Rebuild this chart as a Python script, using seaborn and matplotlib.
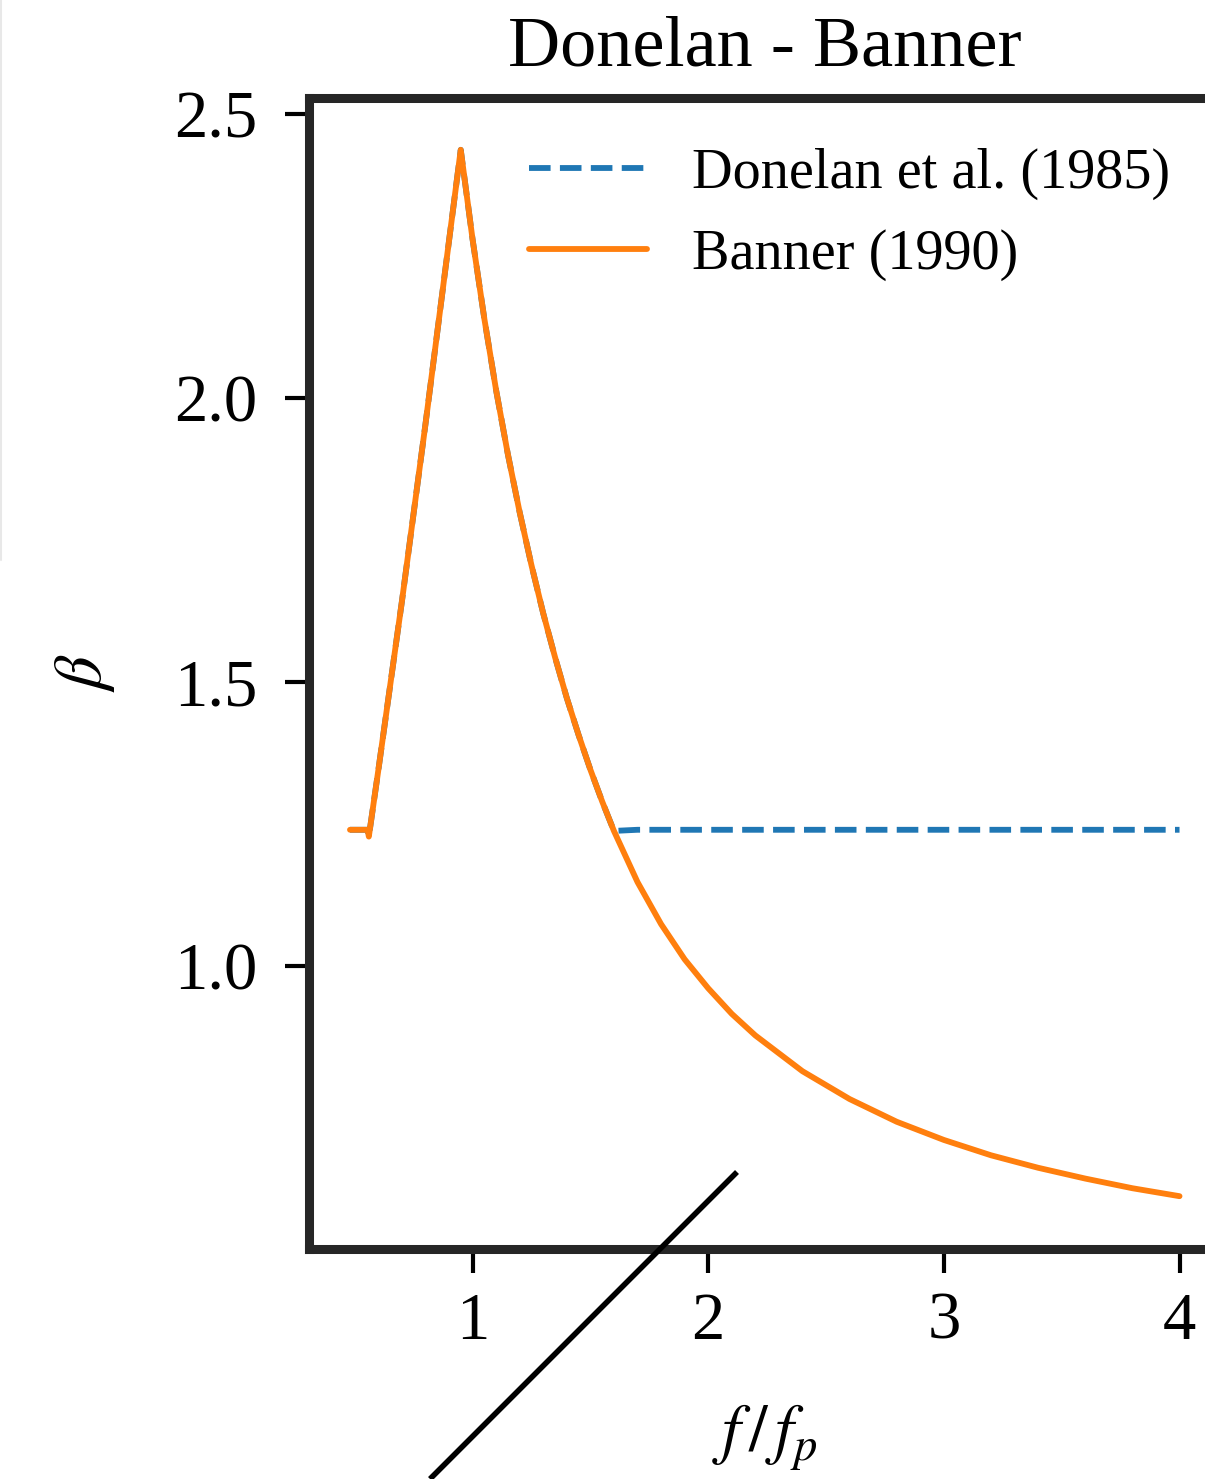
import matplotlib
matplotlib.use("Agg")
import matplotlib.pyplot as plt
from matplotlib.lines import Line2D
import seaborn as sns
import pandas as pd

# ---- data ----
f_ratio = [0.48, 0.52, 0.555, 0.56, 0.60, 0.70, 0.80, 0.90, 0.95,
           1.00, 1.05, 1.10, 1.15, 1.20, 1.25, 1.30, 1.35, 1.40, 1.45, 1.50, 1.55, 1.60,
           1.70, 1.80, 1.90, 2.00, 2.10, 2.20, 2.40, 2.60, 2.80, 3.00,
           3.20, 3.40, 3.60, 3.80, 4.00]
beta_donelan = [1.24, 1.24, 1.24, 1.228, 1.344, 1.641, 1.953, 2.276, 2.437,
                2.28, 2.14, 2.014, 1.901, 1.799, 1.706, 1.621, 1.544, 1.472, 1.407, 1.346, 1.29, 1.238,
                1.24, 1.24, 1.24, 1.24, 1.24, 1.24, 1.24, 1.24, 1.24, 1.24,
                1.24, 1.24, 1.24, 1.24, 1.24]
beta_banner = [1.24, 1.24, 1.24, 1.228, 1.344, 1.641, 1.953, 2.276, 2.437,
               2.28, 2.14, 2.014, 1.901, 1.799, 1.706, 1.621, 1.544, 1.472, 1.407, 1.346, 1.29, 1.238,
               1.148, 1.074, 1.012, 0.961, 0.916, 0.878, 0.815, 0.766, 0.726, 0.694,
               0.667, 0.645, 0.626, 0.609, 0.595]
series_names = ["Donelan et al. (1985)", "Banner (1990)"]
title_text = "Donelan - Banner"
x_ticks = [1, 2, 3, 4]
y_ticks = [1.0, 1.5, 2.0, 2.5]

df = pd.concat([
    pd.DataFrame({"f": f_ratio, "beta": beta_donelan, "model": series_names[0]}),
    pd.DataFrame({"f": f_ratio, "beta": beta_banner, "model": series_names[1]}),
])

sns.set_theme(style="ticks")
plt.rcParams["font.family"] = ["Liberation Serif", "DejaVu Serif"]
plt.rcParams["mathtext.fontset"] = "stix"

W, H = 1205, 1479
fig = plt.figure(figsize=(W / 100, H / 100), dpi=100)
ax = fig.add_axes([308.5 / W, 1 - 1248.5 / H, 912.5 / W, 1151 / H])

sns.lineplot(data=df, x="f", y="beta", hue="model", style="model",
             palette=["#1f77b4", "#ff7f0e"],
             dashes={series_names[0]: (3.7, 1.6), series_names[1]: ""},
             linewidth=4.2, ax=ax, estimator=None, sort=False)

for s in ax.spines.values():
    s.set_linewidth(6.5)
    s.set_color("#262626")

ax.set_xticks(x_ticks)
ax.set_yticks(y_ticks)
ax.set_yticklabels([f"{v:.1f}" for v in y_ticks])
ax.tick_params(axis="both", which="major", labelsize=48, length=17, width=3,
               color="black", labelcolor="black")
ax.tick_params(axis="y", pad=20)
ax.tick_params(axis="x", pad=14)

ax.set_title(title_text, fontsize=52, color="black", pad=23)
ax.set_xlabel(r"$f\,/\,f_p$", fontsize=48, color="black", labelpad=36)
ax.set_ylabel(r"$\beta$", fontsize=48, color="black", labelpad=41)

leg = ax.legend(frameon=False, loc="upper right", fontsize=40.5,
                handlelength=2.1, handletextpad=0.8, labelspacing=0.5)
for line in leg.get_lines():
    line.set_linewidth(4.2)
for t in leg.get_texts():
    t.set_color("black")

# stray diagonal stroke present in the reference image
fig.add_artist(Line2D([430 / W, 737 / W], [0.0, 1 - 1172 / H],
                      transform=fig.transFigure, color="black", linewidth=4.0,
                      solid_capstyle="butt"))
# faint border line at left edge
fig.add_artist(Line2D([0.5 / W, 0.5 / W], [1.0, 1 - 560 / H],
                      transform=fig.transFigure, color="#e8e8e8", linewidth=1.5))

fig.savefig("out.png", dpi=100)
